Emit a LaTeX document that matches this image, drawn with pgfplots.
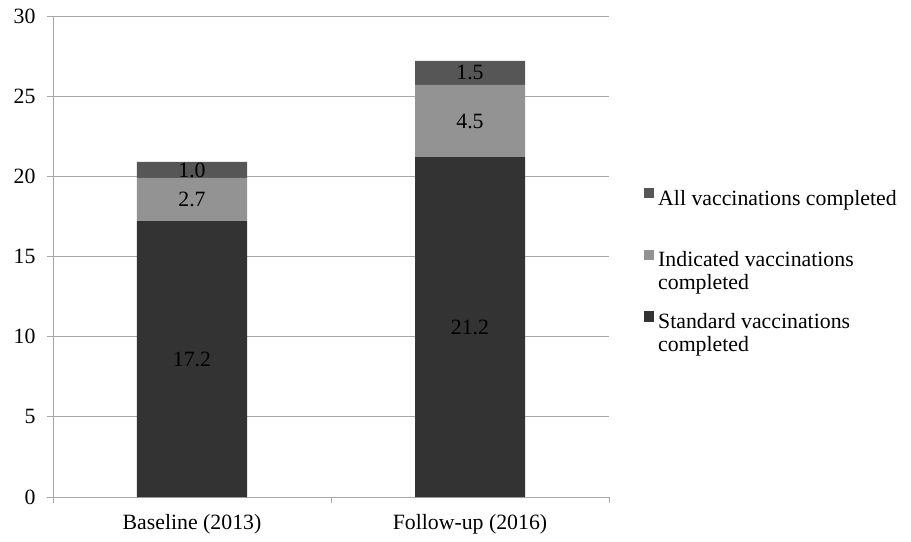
\documentclass[border=0pt]{standalone}
\usepackage{pgfplots}
\pgfplotsset{compat=1.18}
\usepackage{fontspec}
\setmainfont{Liberation Serif}
\definecolor{cstd}{HTML}{333333}
\definecolor{cind}{HTML}{939393}
\definecolor{call}{HTML}{565656}
\definecolor{gridc}{HTML}{A8A8A8}
\begin{document}
\fontsize{21.8}{23}\selectfont
\begin{tikzpicture}
\begin{axis}[
  width=556pt, height=481pt, scale only axis,
  ybar stacked, bar width=110pt,
  xmin=-0.5, xmax=1.5, ymin=0, ymax=30,
  ytick={0,5,...,30},
  xtick={0,1}, xticklabels={Baseline (2013), Follow-up (2016)},
  major x tick style={draw=none},
  extra x ticks={-0.5,0.5,1.5}, extra x tick labels={},
  extra x tick style={grid=none, major x tick style={draw=gridc, line width=0.9pt}},
  axis x line*=bottom, axis y line*=left,
  axis line style={draw=gridc, line width=0.9pt},
  ymajorgrids, grid style={draw=gridc, line width=0.9pt},
  tick align=outside, major tick length=6pt,
  major y tick style={draw=gridc, line width=0.9pt},
  /pgf/number format/assume math mode=true,
  tick label style={font=\fontsize{21.8}{23}\selectfont, text=black},
  yticklabel style={xshift=-4pt},
  xticklabel style={yshift=-4pt},
  nodes near coords, point meta=explicit symbolic,
  nodes near coords align={anchor=center},
  every node near coord/.append style={anchor=center, font=\fontsize{21.8}{23}\selectfont, text=black},
  legend style={at={(1,0.647)}, anchor=north west, xshift=32pt, draw=none, fill=none,
    row sep=16pt, cells={align=left, anchor=north west}, font=\fontsize{21.8}{23}\selectfont},
  legend image code/.code={\fill[#1] (0pt,0pt) rectangle (9.5pt,-10.5pt); \path (12pt,0pt);},
  reverse legend,
]
\addplot[fill=cstd, draw=none] coordinates {(0,17.2) [17.2] (1,21.2) [21.2]};
\addlegendentry{Standard vaccinations\\completed}
\addplot[fill=cind, draw=none] coordinates {(0,2.7) [2.7] (1,4.5) [4.5]};
\addlegendentry{Indicated vaccinations\\completed}
\addplot[fill=call, draw=none] coordinates {(0,1.0) [1.0] (1,1.5) [1.5]};
\addlegendentry{All vaccinations completed\\\mbox{}}
\end{axis}
\path ([xshift=-53pt,yshift=-38pt]current axis.south west) rectangle ++(911pt,535pt);
\end{tikzpicture}
\end{document}
